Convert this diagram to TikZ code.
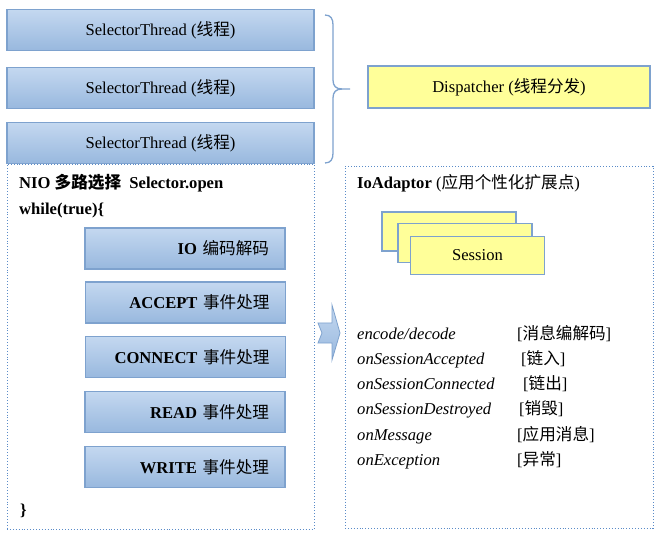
\documentclass[tikz,border=0pt]{standalone}
\usepackage{fontspec}
\setmainfont{Liberation Serif}
\newfontfamily\cjk{Noto Sans CJK SC}
\definecolor{boxtop}{HTML}{C4D8F0}
\definecolor{boxbot}{HTML}{98B8DE}
\definecolor{boxline}{HTML}{7EA2CE}
\definecolor{dotline}{HTML}{5A8BC8}
\definecolor{lightyellow}{HTML}{FFFF99}
\tikzset{
  bluebox/.style={draw=boxline,line width=1.2pt,top color=boxtop,bottom color=boxbot,minimum height=41pt},
  threadbox/.style={bluebox,minimum width=307pt},
  eventbox/.style={bluebox,text width=168pt,inner xsep=16pt,align=right},
  yellowbox/.style={draw=boxline,line width=1.2pt,fill=lightyellow},
  dotbox/.style={draw=dotline,dotted,line width=0.9pt},
  plain/.style={anchor=west,inner sep=0pt,text height=12pt,text depth=4pt}
}
\begin{document}
\begin{tikzpicture}[x=1pt,y=-1pt,font=\fontsize{16.6}{20}\selectfont]
\useasboundingbox (0,0) rectangle (664,537);
\node[threadbox] (st1) at (160.5,30) {SelectorThread ({\cjk 线程})};
\node[threadbox] (st2) at (160.5,88) {SelectorThread ({\cjk 线程})};
\node[threadbox] (st3) at (160.5,143) {SelectorThread ({\cjk 线程})};
\node[dotbox,minimum width=307pt,minimum height=365pt] (nio) at (160.5,346.5) {};
\node[plain] (niotitle) at (19,185) {\bfseries NIO {\cjk 多路选择}\ \ Selector.open};
\node[plain] (loop) at (19,211) {\bfseries while(true)\{};
\node[eventbox] (io) at (185,248.5) {\bfseries IO {\cjk\mdseries 编码解码}};
\node[eventbox] (accept) at (185.5,302.5) {\bfseries ACCEPT {\cjk\mdseries 事件处理}};
\node[eventbox] (connect) at (185.5,357) {\bfseries CONNECT {\cjk\mdseries 事件处理}};
\node[eventbox] (read) at (185,412) {\bfseries READ {\cjk\mdseries 事件处理}};
\node[eventbox] (write) at (185,467) {\bfseries WRITE {\cjk\mdseries 事件处理}};
\node[plain] (close) at (20,511) {\bfseries \}};
\draw[boxline,line width=1.3pt] (325,15) .. controls (331,15) and (333,19) .. (333,25) -- (333,80)
  .. controls (333,86) and (336,89) .. (342,89) -- (350,89);
\draw[boxline,line width=1.3pt] (342,89) .. controls (336,89) and (333,92) .. (333,98) -- (333,153)
  .. controls (333,159) and (331,163) .. (325,163);
\node[yellowbox,minimum width=282pt,minimum height=42pt] (disp) at (509,87) {Dispatcher ({\cjk 线程分发})};
\node[dotbox,minimum width=308pt,minimum height=362pt] (ada) at (499,347) {};
\node[plain] (adatitle) at (357,185) {\textbf{IoAdaptor} ({\cjk 应用个性化扩展点})};
\node[yellowbox,minimum width=134pt,minimum height=39pt] (s1) at (449,231.5) {};
\node[yellowbox,minimum width=134pt,minimum height=39pt] (s2) at (465,243) {};
\node[yellowbox,minimum width=134pt,minimum height=38pt] (s3) at (477.5,255.5) {Session};
\shade[top color=boxtop,bottom color=boxbot,draw=boxline,line width=0.8pt]
  (318,323) -- (332,323) -- (332,305) -- (340,333) -- (332,360) -- (332,343) -- (318,343) -- (322,333) -- cycle;
\foreach \y/\m/\x/\c in {335/encode\slash decode/517/消息编解码,
  360/onSessionAccepted/521/链入,
  385/onSessionConnected/523/链出,
  410/onSessionDestroyed/519/销毁,
  436/onMessage/517/应用消息,
  461/onException/517/异常}{
  \node[plain] at (357,\y) {\itshape \m};
  \node[plain] at (\x,\y) {[{\cjk \c}]};
}
\end{tikzpicture}
\end{document}
